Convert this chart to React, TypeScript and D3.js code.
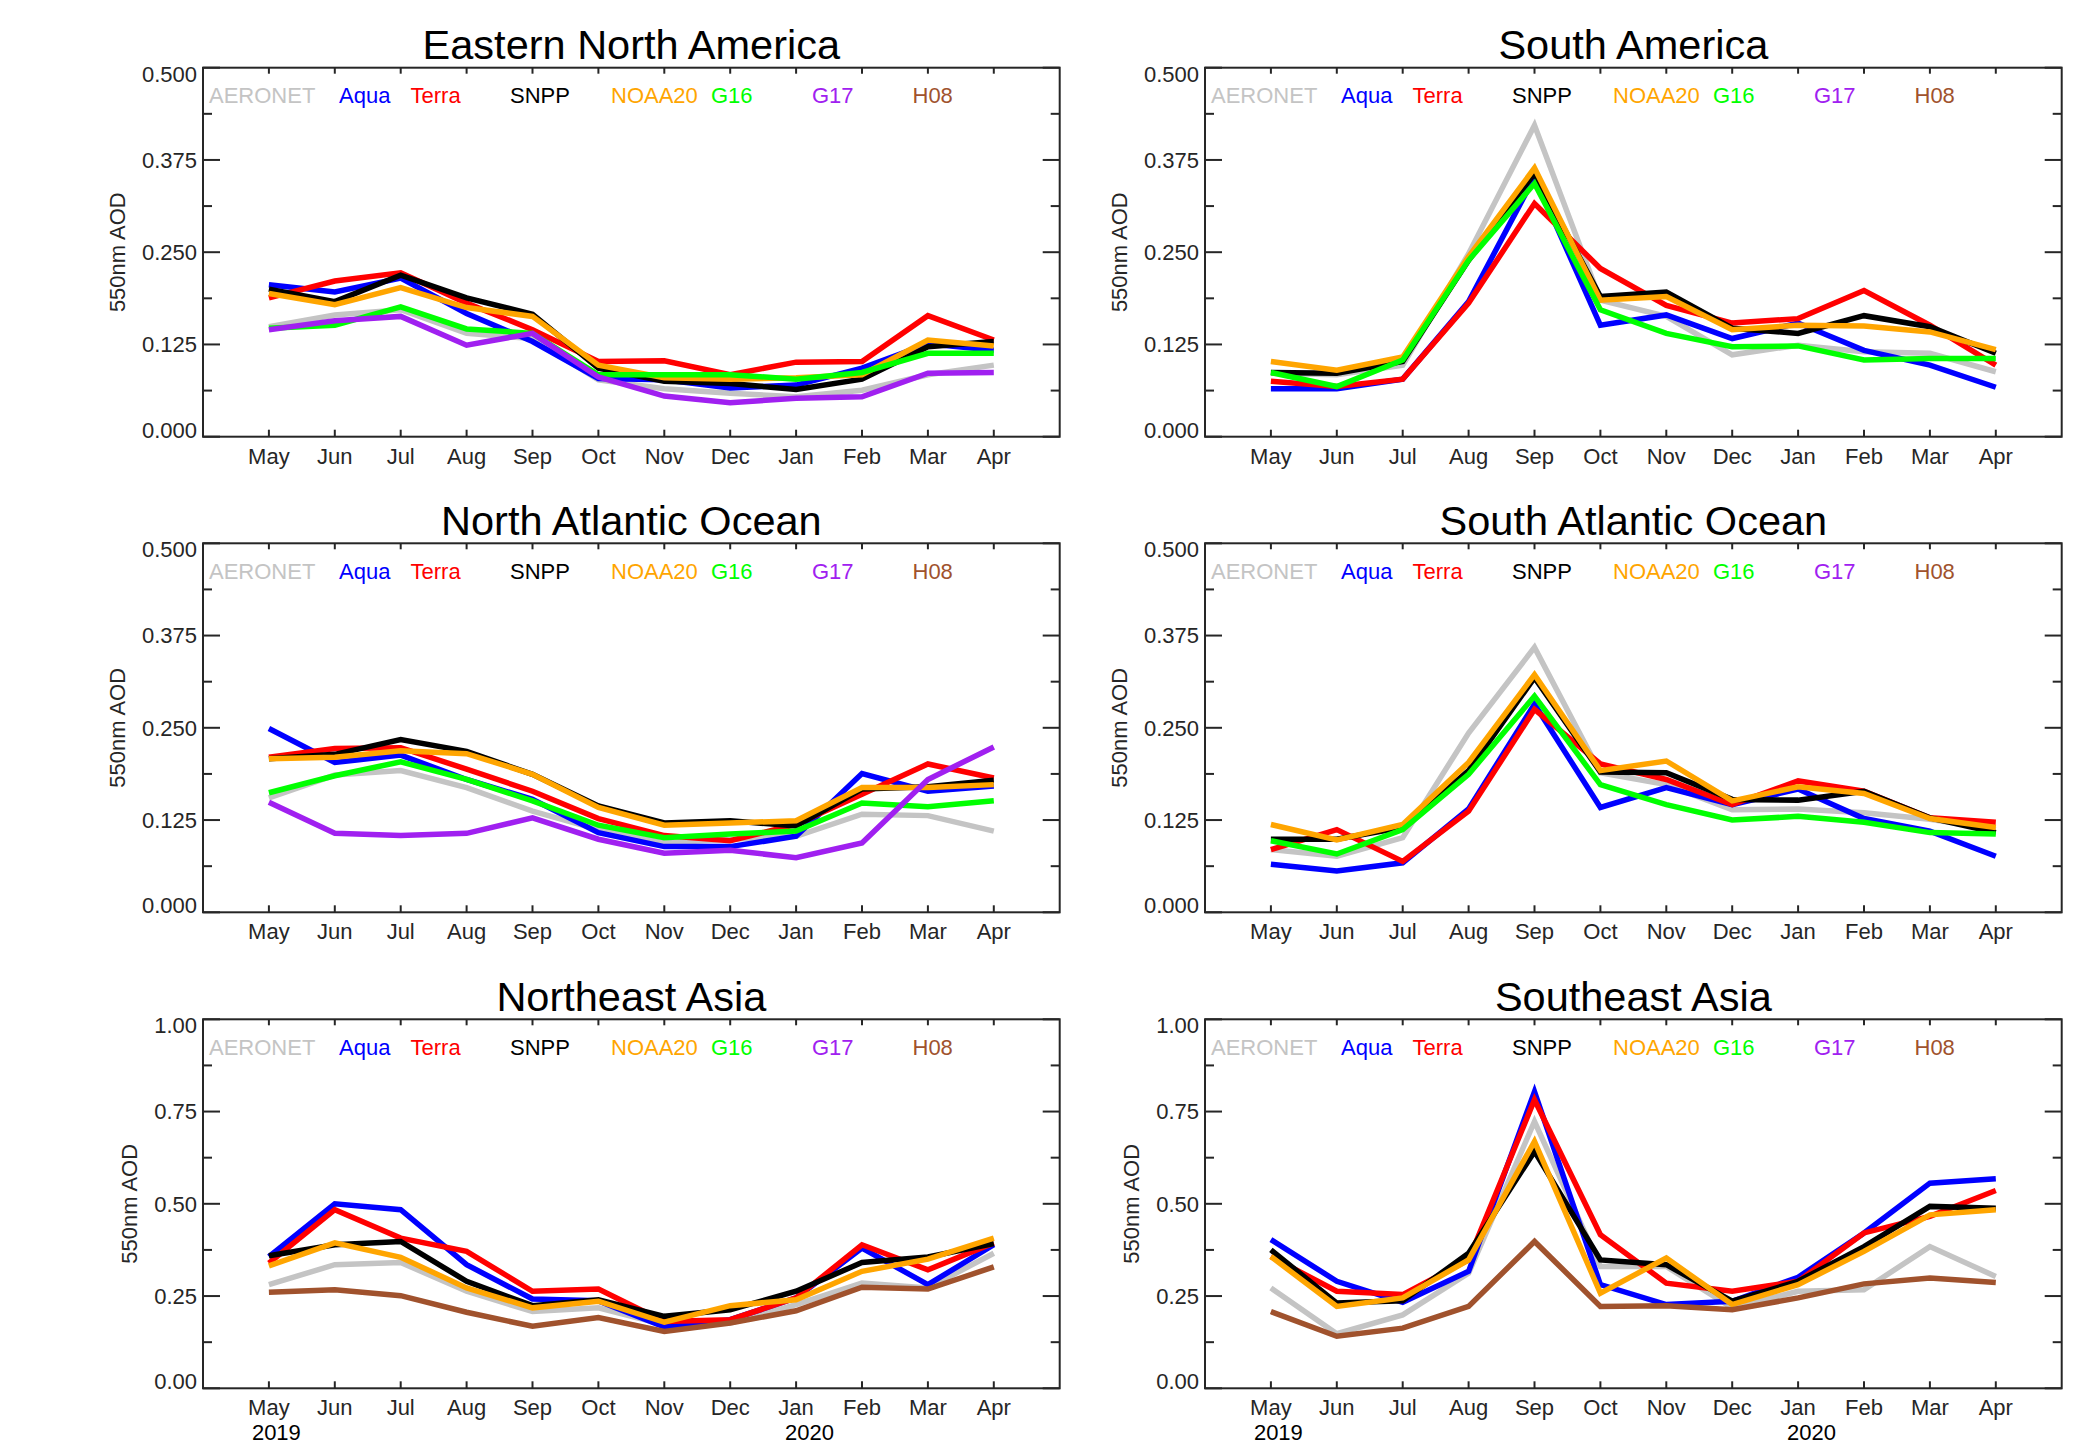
import React from "react";
import * as d3 from "d3";

// month axis, May 2019 .. Apr 2020
const months = ["May", "Jun", "Jul", "Aug", "Sep", "Oct", "Nov", "Dec", "Jan", "Feb", "Mar", "Apr"];
const seriesNames = ["AERONET", "Aqua", "Terra", "SNPP", "NOAA20", "G16", "G17", "H08"];
const seriesColors = ["#c4c4c4", "#0000ff", "#ff0000", "#000000", "#ffa500", "#00ff00", "#a020f0", "#a0522d"];
const legendOffsets = [6, 136, 207.5, 307, 408, 508, 609, 709.5];

const ticksHalf = [0, 0.125, 0.25, 0.375, 0.5];
const ticksOne = [0, 0.25, 0.5, 0.75, 1.0];

// 550nm AOD monthly means per region
const eastNorthAmerica = {
  AERONET: [0.149, 0.165, 0.172, 0.14, 0.133, 0.077, 0.065, 0.059, 0.054, 0.063, 0.084, 0.097],
  Aqua: [0.206, 0.196, 0.215, 0.167, 0.129, 0.079, 0.077, 0.066, 0.07, 0.093, 0.126, 0.117],
  Terra: [0.188, 0.211, 0.222, 0.181, 0.145, 0.102, 0.103, 0.084, 0.101, 0.102, 0.164, 0.131],
  SNPP: [0.2, 0.183, 0.219, 0.188, 0.166, 0.093, 0.075, 0.072, 0.064, 0.078, 0.122, 0.129],
  NOAA20: [0.194, 0.179, 0.202, 0.175, 0.163, 0.097, 0.08, 0.078, 0.08, 0.084, 0.131, 0.123],
  G16: [0.147, 0.151, 0.176, 0.146, 0.14, 0.084, 0.084, 0.084, 0.078, 0.087, 0.113, 0.113],
  G17: [0.145, 0.157, 0.163, 0.124, 0.14, 0.081, 0.055, 0.046, 0.052, 0.054, 0.086, 0.087],
};

const southAmerica = {
  AERONET: [0.086, 0.084, 0.097, 0.248, 0.422, 0.185, 0.163, 0.111, 0.124, 0.115, 0.113, 0.088],
  Aqua: [0.065, 0.065, 0.078, 0.183, 0.352, 0.151, 0.165, 0.133, 0.154, 0.117, 0.097, 0.067],
  Terra: [0.075, 0.068, 0.078, 0.181, 0.316, 0.228, 0.178, 0.154, 0.16, 0.198, 0.151, 0.097],
  SNPP: [0.087, 0.086, 0.102, 0.239, 0.357, 0.19, 0.196, 0.147, 0.14, 0.164, 0.149, 0.113],
  NOAA20: [0.102, 0.09, 0.108, 0.244, 0.364, 0.185, 0.19, 0.145, 0.151, 0.15, 0.142, 0.118],
  G16: [0.087, 0.068, 0.104, 0.239, 0.343, 0.172, 0.14, 0.122, 0.123, 0.104, 0.106, 0.106],
};

const northAtlantic = {
  AERONET: [0.155, 0.186, 0.192, 0.169, 0.137, 0.112, 0.094, 0.099, 0.103, 0.133, 0.131, 0.11],
  Aqua: [0.249, 0.203, 0.213, 0.18, 0.153, 0.108, 0.089, 0.089, 0.103, 0.188, 0.164, 0.171],
  Terra: [0.21, 0.222, 0.223, 0.194, 0.164, 0.127, 0.104, 0.097, 0.119, 0.16, 0.201, 0.182],
  SNPP: [0.208, 0.214, 0.234, 0.218, 0.187, 0.144, 0.121, 0.124, 0.117, 0.167, 0.17, 0.179],
  NOAA20: [0.208, 0.21, 0.219, 0.215, 0.187, 0.142, 0.118, 0.121, 0.124, 0.169, 0.169, 0.173],
  G16: [0.162, 0.185, 0.204, 0.18, 0.151, 0.118, 0.101, 0.106, 0.11, 0.148, 0.143, 0.151],
  G17: [0.149, 0.107, 0.104, 0.107, 0.128, 0.099, 0.08, 0.084, 0.074, 0.094, 0.18, 0.224],
};

const southAtlantic = {
  AERONET: [0.085, 0.076, 0.101, 0.243, 0.359, 0.189, 0.173, 0.139, 0.14, 0.135, 0.126, 0.112],
  Aqua: [0.065, 0.056, 0.067, 0.14, 0.282, 0.142, 0.169, 0.146, 0.167, 0.127, 0.11, 0.076],
  Terra: [0.085, 0.112, 0.069, 0.137, 0.275, 0.201, 0.18, 0.146, 0.178, 0.164, 0.128, 0.122],
  SNPP: [0.099, 0.099, 0.115, 0.192, 0.318, 0.19, 0.189, 0.153, 0.152, 0.164, 0.128, 0.108],
  NOAA20: [0.119, 0.098, 0.119, 0.203, 0.322, 0.192, 0.205, 0.151, 0.17, 0.161, 0.127, 0.115],
  G16: [0.097, 0.079, 0.112, 0.187, 0.293, 0.173, 0.146, 0.125, 0.13, 0.122, 0.108, 0.106],
};

const northeastAsia = {
  AERONET: [0.281, 0.335, 0.341, 0.263, 0.208, 0.218, 0.172, 0.177, 0.227, 0.285, 0.272, 0.366],
  Aqua: [0.357, 0.5, 0.484, 0.335, 0.242, 0.237, 0.166, 0.186, 0.245, 0.38, 0.281, 0.389],
  Terra: [0.339, 0.484, 0.407, 0.371, 0.263, 0.269, 0.181, 0.186, 0.245, 0.389, 0.321, 0.394],
  SNPP: [0.359, 0.389, 0.398, 0.29, 0.224, 0.24, 0.195, 0.213, 0.263, 0.341, 0.356, 0.392],
  NOAA20: [0.332, 0.394, 0.355, 0.272, 0.218, 0.236, 0.179, 0.224, 0.24, 0.317, 0.35, 0.407],
  H08: [0.26, 0.267, 0.251, 0.206, 0.168, 0.192, 0.154, 0.177, 0.21, 0.274, 0.269, 0.329],
};

const southeastAsia = {
  AERONET: [0.272, 0.148, 0.199, 0.312, 0.723, 0.33, 0.33, 0.218, 0.263, 0.267, 0.384, 0.303],
  Aqua: [0.403, 0.29, 0.233, 0.317, 0.804, 0.281, 0.227, 0.236, 0.301, 0.421, 0.556, 0.568],
  Terra: [0.357, 0.263, 0.254, 0.348, 0.782, 0.416, 0.285, 0.263, 0.29, 0.421, 0.466, 0.536],
  SNPP: [0.375, 0.231, 0.237, 0.366, 0.642, 0.348, 0.335, 0.236, 0.29, 0.384, 0.493, 0.488],
  NOAA20: [0.357, 0.222, 0.245, 0.348, 0.669, 0.258, 0.353, 0.227, 0.281, 0.371, 0.47, 0.484],
  H08: [0.208, 0.141, 0.163, 0.222, 0.398, 0.222, 0.224, 0.213, 0.245, 0.283, 0.299, 0.287],
};

const WIDTH = 2098;
const HEIGHT = 1448;
const COL_LEFT = [203, 1205];
const ROW_TOP = [67.7, 543.3, 1019.3];
const PLOT_W = 65.9 * 13;
const PLOT_H = 369;
const FONT = "'Liberation Sans', Arial, Helvetica, sans-serif";
const AXIS = "#262626";

const panels = [
  { title: "Eastern North America", data: eastNorthAmerica, ymax: 0.5, ticks: ticksHalf, fmt: ".3f", col: 0, row: 0 },
  { title: "South America", data: southAmerica, ymax: 0.5, ticks: ticksHalf, fmt: ".3f", col: 1, row: 0 },
  { title: "North Atlantic Ocean", data: northAtlantic, ymax: 0.5, ticks: ticksHalf, fmt: ".3f", col: 0, row: 1 },
  { title: "South Atlantic Ocean", data: southAtlantic, ymax: 0.5, ticks: ticksHalf, fmt: ".3f", col: 1, row: 1 },
  { title: "Northeast Asia", data: northeastAsia, ymax: 1.0, ticks: ticksOne, fmt: ".2f", col: 0, row: 2 },
  { title: "Southeast Asia", data: southeastAsia, ymax: 1.0, ticks: ticksOne, fmt: ".2f", col: 1, row: 2 },
];

function Panel({ p }) {
  const left = COL_LEFT[p.col];
  const top = ROW_TOP[p.row];
  const right = left + PLOT_W;
  const bottom = top + PLOT_H;

  const x = d3.scaleLinear().domain([-1, 12]).range([left, right]);
  const y = d3.scaleLinear().domain([0, p.ymax]).range([bottom, top]);
  const fmt = d3.format(p.fmt);
  const line = d3
    .line()
    .x((d, i) => x(i))
    .y((d) => y(d));

  // minor ticks halfway between labelled ones
  const step = p.ticks[1] - p.ticks[0];
  const minor = p.ticks.slice(0, -1).map((t) => t + step / 2);
  const yTitleX = p.fmt === ".3f" ? left - 86 : left - 74;

  return (
    <g>
      <text x={(left + right) / 2} y={top - 8.5} textAnchor="middle" fontSize={41.5} fill="#000">
        {p.title}
      </text>

      {/* data lines */}
      {seriesNames.map((name, k) =>
        p.data[name] ? (
          <path
            key={name}
            d={line(p.data[name])}
            fill="none"
            stroke={seriesColors[k]}
            strokeWidth={5.5}
            strokeLinejoin="miter"
          />
        ) : null
      )}

      {/* frame */}
      <rect x={left} y={top} width={PLOT_W} height={PLOT_H} fill="none" stroke={AXIS} strokeWidth={2} />

      {/* y ticks, both sides */}
      {p.ticks.map((t) => (
        <g key={"t" + t}>
          <line x1={left} x2={left + 17} y1={y(t)} y2={y(t)} stroke={AXIS} strokeWidth={2} />
          <line x1={right} x2={right - 17} y1={y(t)} y2={y(t)} stroke={AXIS} strokeWidth={2} />
          <text
            x={left - 6}
            y={Math.min(Math.max(y(t), top + 6), bottom - 7)}
            dy="0.36em"
            textAnchor="end"
            fontSize={22}
            fill={AXIS}
          >
            {fmt(t)}
          </text>
        </g>
      ))}
      {minor.map((t) => (
        <g key={"m" + t}>
          <line x1={left} x2={left + 9} y1={y(t)} y2={y(t)} stroke={AXIS} strokeWidth={2} />
          <line x1={right} x2={right - 9} y1={y(t)} y2={y(t)} stroke={AXIS} strokeWidth={2} />
        </g>
      ))}

      {/* x ticks, both sides */}
      {months.map((m, i) => (
        <g key={m}>
          <line x1={x(i)} x2={x(i)} y1={bottom} y2={bottom - 7} stroke={AXIS} strokeWidth={2} />
          <line x1={x(i)} x2={x(i)} y1={top} y2={top + 6} stroke={AXIS} strokeWidth={2} />
          <text x={x(i)} y={bottom + 27} textAnchor="middle" fontSize={22} fill={AXIS}>
            {m}
          </text>
        </g>
      ))}

      <text
        transform={`translate(${yTitleX},${(top + bottom) / 2}) rotate(-90)`}
        dy="0.36em"
        textAnchor="middle"
        fontSize={22}
        fill={AXIS}
      >
        550nm AOD
      </text>

      {/* legend */}
      {seriesNames.map((name, k) => (
        <text key={"l" + name} x={left + legendOffsets[k]} y={top + 35.6} fontSize={22} fill={seriesColors[k]}>
          {name}
        </text>
      ))}

      {p.row === 2 ? (
        <g>
          <text x={x(0) - 17} y={bottom + 52} fontSize={22} fill="#000">
            2019
          </text>
          <text x={x(8) - 11} y={bottom + 52} fontSize={22} fill="#000">
            2020
          </text>
        </g>
      ) : null}
    </g>
  );
}

export default function App() {
  return (
    <svg
      width={WIDTH}
      height={HEIGHT}
      style={{ position: "absolute", left: 0, top: 0, background: "#fff" }}
      fontFamily={FONT}
    >
      <rect width={WIDTH} height={HEIGHT} fill="#fff" />
      {panels.map((p) => (
        <Panel key={p.title} p={p} />
      ))}
    </svg>
  );
}
